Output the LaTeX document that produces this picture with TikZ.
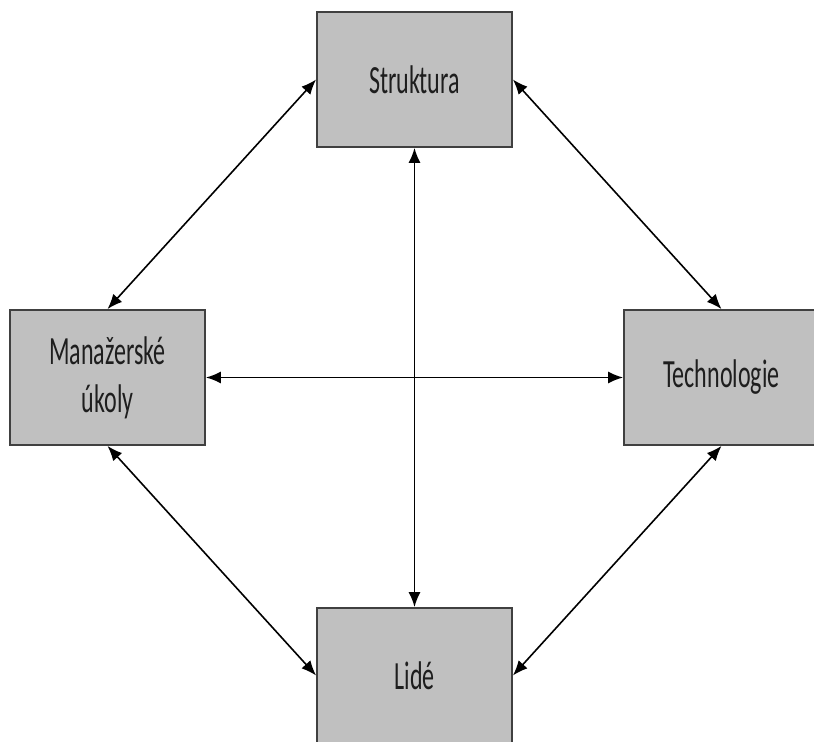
\documentclass[tikz,border=0pt]{standalone}
\usepackage{fontspec}
\setmainfont{Carlito}[FakeStretch=0.6]
\usetikzlibrary{arrows.meta,positioning}
\definecolor{boxgray}{RGB}{192,192,192}
\definecolor{boxline}{RGB}{64,64,64}
\definecolor{textdark}{RGB}{30,30,30}
\tikzset{
  factor/.style={draw=boxline,fill=boxgray,line width=.9pt,text=textdark,
    minimum width=97.5pt,minimum height=67.5pt,align=center,
    font=\fontsize{20}{24}\selectfont},
  link/.style={{Latex[length=7.5pt,width=6pt]}-{Latex[length=7.5pt,width=6pt]},
    line width=.8pt,black}
}
\begin{document}
\begin{tikzpicture}[x=.5pt,y=-.5pt]
    \useasboundingbox (0,0) rectangle (814,742);
    \node[factor] (struktura) at (414.5,79.5) {Struktura};
    \node[factor] (ukoly) at (107.5,377.5) {Manažerské\\úkoly};
    \node[factor] (technologie) at (721.5,377.5) {Technologie};
    \node[factor] (lide) at (414.5,675.5) {Lidé};
    % spoje mezi prvky
    \draw[link] (struktura.west) -- (ukoly.north);
    \draw[link] (struktura.east) -- (technologie.north);
    \draw[link] (ukoly.south) -- (lide.west);
    \draw[link] (technologie.south) -- (lide.east);
    \draw[link] (ukoly.east) -- (technologie.west);
    \draw[link] (struktura.south) -- (lide.north);
  \end{tikzpicture}
\end{document}
